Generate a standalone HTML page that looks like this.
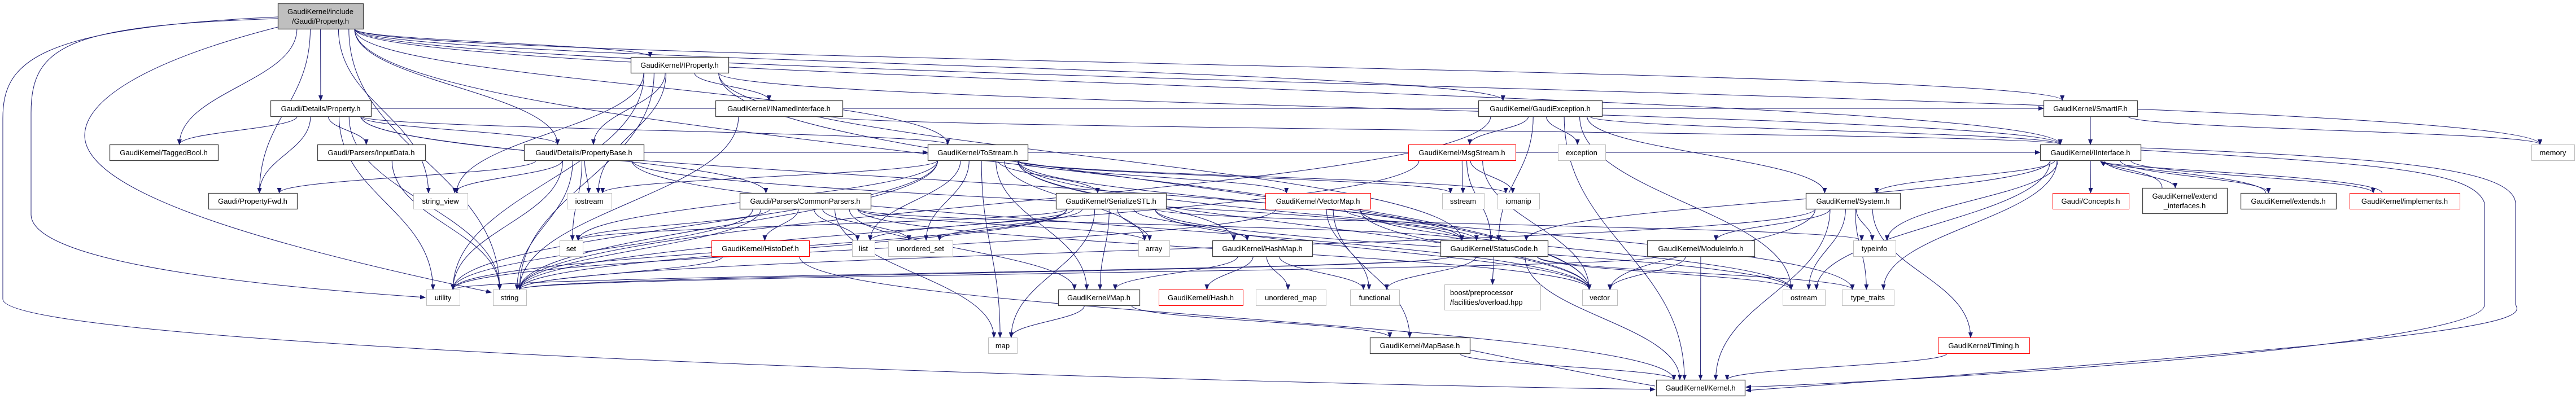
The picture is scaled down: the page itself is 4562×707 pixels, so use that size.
<!DOCTYPE html>
<html><head><meta charset="utf-8">
<style>
html,body{margin:0;padding:0;background:#fff;}
svg{display:block;}
text{font-family:"Liberation Sans",sans-serif;font-size:13px;fill:#000;}
</style></head>
<body>
<svg id="g" width="4562" height="707" xmlns="http://www.w3.org/2000/svg">
<defs>
<marker id="ar" viewBox="0 0 10 10" refX="9" refY="5" markerWidth="10" markerHeight="10" markerUnits="userSpaceOnUse" orient="auto">
<path d="M0,1 L10,5 L0,9 z" fill="#191970"/></marker>
</defs>
<g id="edges" fill="none" stroke="#191970" stroke-width="1"></g>
<g id="nodes"></g>
</svg>
<script>
var N={
root:[492,6,643,51,'b',['GaudiKernel/include','/Gaudi/Property.h']],
IProperty:[1117,101,1290,129,'k',['GaudiKernel/IProperty.h']],
DetProp:[479,178,657,206,'k',['Gaudi/Details/Property.h']],
INamed:[1267,178,1492,206,'k',['GaudiKernel/INamedInterface.h']],
GaudiExc:[2618,178,2837,206,'k',['GaudiKernel/GaudiException.h']],
SmartIF:[3619,178,3785,206,'k',['GaudiKernel/SmartIF.h']],
TaggedBool:[194,256,386,284,'k',['GaudiKernel/TaggedBool.h']],
InputData:[562,256,753,284,'k',['Gaudi/Parsers/InputData.h']],
PropBase:[928,256,1140,284,'k',['Gaudi/Details/PropertyBase.h']],
ToStream:[1643,256,1820,284,'k',['GaudiKernel/ToStream.h']],
MsgStream:[2494,256,2684,284,'r',['GaudiKernel/MsgStream.h']],
exception:[2759,256,2843,284,'g',['exception']],
IInterface:[3613,256,3791,284,'k',['GaudiKernel/IInterface.h']],
memory:[4483,256,4559,284,'g',['memory']],
PropertyFwd:[369,342,526,370,'k',['Gaudi/PropertyFwd.h']],
string_view:[732,342,828,370,'g',['string_view']],
iostream:[1004,342,1083,370,'g',['iostream']],
CommonParsers:[1310,342,1542,370,'k',['Gaudi/Parsers/CommonParsers.h']],
SerializeSTL:[1870,342,2065,370,'k',['GaudiKernel/SerializeSTL.h']],
VectorMap:[2241,342,2427,370,'r',['GaudiKernel/VectorMap.h']],
sstream:[2554,342,2628,370,'g',['sstream']],
iomanip:[2652,342,2726,370,'g',['iomanip']],
System:[3198,342,3365,370,'k',['GaudiKernel/System.h']],
Concepts:[3635,342,3770,370,'r',['Gaudi/Concepts.h']],
extint:[3794,333,3944,378,'k',['GaudiKernel/extend','_interfaces.h']],
extends:[3968,342,4137,370,'k',['GaudiKernel/extends.h']],
implements:[4161,342,4356,370,'r',['GaudiKernel/implements.h']],
set:[991,426,1032,454,'g',['set']],
HistoDef:[1260,426,1433,454,'r',['GaudiKernel/HistoDef.h']],
list:[1509,426,1549,454,'g',['list']],
unordered_set:[1573,426,1687,454,'g',['unordered_set']],
array:[2016,426,2071,454,'g',['array']],
HashMap:[2147,426,2324,454,'k',['GaudiKernel/HashMap.h']],
StatusCode:[2551,426,2741,454,'k',['GaudiKernel/StatusCode.h']],
ModuleInfo:[2917,426,3107,454,'k',['GaudiKernel/ModuleInfo.h']],
typeinfo:[3282,426,3357,454,'g',['typeinfo']],
utility:[755,513,814,541,'g',['utility']],
string:[873,513,932,541,'g',['string']],
Map:[1874,513,2018,541,'k',['GaudiKernel/Map.h']],
Hash:[2052,513,2201,541,'r',['GaudiKernel/Hash.h']],
unordered_map:[2224,513,2348,541,'g',['unordered_map']],
functional:[2391,513,2478,541,'g',['functional']],
boost:[2558,504,2728,549,'g',['boost/preprocessor','/facilities/overload.hpp']],
vector:[2802,513,2864,541,'g',['vector']],
ostream:[3157,513,3232,541,'g',['ostream']],
type_traits:[3262,513,3354,541,'g',['type_traits']],
map:[1750,598,1801,626,'g',['map']],
MapBase:[2426,598,2603,626,'k',['GaudiKernel/MapBase.h']],
Timing:[3432,598,3594,626,'r',['GaudiKernel/Timing.h']],
Kernel:[2933,673,3090,701,'k',['GaudiKernel/Kernel.h']]
};
var E=[
['root','DetProp'],['root','TaggedBool'],['root','PropertyFwd'],['root','IProperty'],['root','PropBase'],['root','ToStream'],['root','string_view'],['root','SmartIF'],['root','IInterface'],['root','vector'],['root','GaudiExc'],['root','string'],
['DetProp','TaggedBool'],['DetProp','InputData'],['DetProp','PropertyFwd'],['DetProp','utility'],['DetProp','string'],['DetProp','PropBase'],['DetProp','ToStream'],['DetProp','CommonParsers'],['DetProp','StatusCode'],['DetProp','SmartIF'],
['IProperty','PropBase'],['IProperty','string_view'],['IProperty','iostream'],['IProperty','string'],['IProperty','INamed'],['IProperty','IInterface'],['IProperty','vector'],['IProperty','StatusCode'],['IProperty','utility'],
['INamed','string'],['INamed','IInterface'],
['PropBase','PropertyFwd'],['PropBase','string_view'],['PropBase','iostream'],['PropBase','set'],['PropBase','string'],['PropBase','utility'],['PropBase','ToStream'],['PropBase','StatusCode'],['PropBase','IInterface'],['PropBase','vector'],
['InputData','string'],
['CommonParsers','set'],['CommonParsers','HistoDef'],['CommonParsers','list'],['CommonParsers','unordered_set'],['CommonParsers','string'],['CommonParsers','map'],['CommonParsers','vector'],['CommonParsers','Map'],['CommonParsers','StatusCode'],['CommonParsers','utility'],['CommonParsers','array'],
['HistoDef','string'],['HistoDef','Kernel'],
['ToStream','unordered_set'],['ToStream','map'],['ToStream','Map'],['ToStream','SerializeSTL'],['ToStream','array'],['ToStream','HashMap'],['ToStream','VectorMap'],['ToStream','iostream'],['ToStream','set'],['ToStream','list'],['ToStream','string'],['ToStream','utility'],['ToStream','sstream'],['ToStream','iomanip'],['ToStream','vector'],['ToStream','type_traits'],['ToStream','StatusCode'],
['SerializeSTL','array'],['SerializeSTL','map'],['SerializeSTL','Map'],['SerializeSTL','HashMap'],['SerializeSTL','unordered_set'],['SerializeSTL','list'],['SerializeSTL','set'],['SerializeSTL','string'],['SerializeSTL','vector'],['SerializeSTL','ostream'],['SerializeSTL','utility'],['SerializeSTL','typeinfo'],
['VectorMap','functional'],['VectorMap','MapBase'],['VectorMap','StatusCode'],['VectorMap','vector'],['VectorMap','ostream'],['VectorMap','utility'],
['HashMap','Map'],['HashMap','Hash'],['HashMap','unordered_map'],['HashMap','functional'],
['Map','map'],['Map','MapBase'],['MapBase','Kernel'],
['GaudiExc','MsgStream'],['GaudiExc','exception'],['GaudiExc','StatusCode'],['GaudiExc','IInterface'],['GaudiExc','Kernel'],['GaudiExc','string'],['GaudiExc','System'],['GaudiExc','ostream'],
['MsgStream','sstream'],['MsgStream','iomanip'],['MsgStream','string'],['MsgStream','StatusCode'],['MsgStream','vector'],
['StatusCode','boost'],['StatusCode','functional'],['StatusCode','ostream'],['StatusCode','type_traits'],['StatusCode','Kernel'],['StatusCode','utility'],['StatusCode','string'],
['ModuleInfo','vector'],['ModuleInfo','Kernel'],['ModuleInfo','string'],
['IInterface','System'],['IInterface','Concepts'],['IInterface','extint'],['IInterface','extends'],['IInterface','implements'],['IInterface','typeinfo'],['IInterface','type_traits'],['IInterface','ostream'],['IInterface','StatusCode'],
['SmartIF','IInterface'],['SmartIF','memory'],['root','memory'],
['System','typeinfo'],['System','type_traits'],['System','ostream'],['System','Timing'],['System','Kernel'],['System','ModuleInfo'],['System','vector'],['System','string'],
['Timing','Kernel']
];
var ns='http://www.w3.org/2000/svg',eg=document.getElementById('edges'),ng=document.getElementById('nodes');
function P(d,arrow){var p=document.createElementNS(ns,'path');p.setAttribute('d',d);if(arrow!==false)p.setAttribute('marker-end','url(#ar)');eg.appendChild(p);}
E.forEach(function(e){var a=N[e[0]],b=N[e[1]];
 var acx=(a[0]+a[2])/2,bcx=(b[0]+b[2])/2,aw=a[2]-a[0],bw=b[2]-b[0];
 var sx=acx+Math.max(-aw*0.4,Math.min(aw*0.4,(bcx-acx)*0.15)),tx=bcx+Math.max(-bw*0.3,Math.min(bw*0.3,(acx-bcx)*0.1));
 var sy=a[3],ty=b[1];
 if(ty<=sy+4){ // same row-ish: go to side
   if(bcx>acx){sx=a[2];sy=(a[1]+a[3])/2;tx=b[0];ty=(b[1]+b[3])/2;}else{sx=a[0];sy=(a[1]+a[3])/2;tx=b[2];ty=(b[1]+b[3])/2;}
   P('M'+sx+','+sy+' C'+(sx+(tx-sx)*0.4)+','+sy+' '+(sx+(tx-sx)*0.6)+','+ty+' '+tx+','+ty);return;}
 var dy=ty-sy;
 P('M'+sx+','+sy+' C'+sx+','+(sy+dy*0.45)+' '+tx+','+(ty-dy*0.45)+' '+tx+','+ty);
});
// back edges into IInterface
['extint','extends','implements'].forEach(function(k){var b=N[k];var bx=(b[0]+b[2])/2-40;P('M'+bx+','+b[1]+' C'+bx+','+(b[1]-30)+' 3740,300 3720,286');});
// big loops
P('M492,33 C120,45 55,80 55,200 L55,380 C55,470 500,510 753,527');
P('M492,30 C60,50 5,110 5,210 L5,530 C5,620 2200,680 2931,690');
P('M492,48 C250,110 150,180 150,240 C150,330 400,420 870,518');
P('M3791,266 C4200,290 4380,300 4400,360 L4400,540 C4400,610 3500,670 3092,686');
P('M3791,262 C4250,280 4450,300 4455,360 L4455,540 C4475,570 4400,600 3092,692');
P('M2603,620 C2700,640 2850,670 2931,684',false);
// nodes
Object.keys(N).forEach(function(k){var n=N[k];var r=document.createElementNS(ns,'rect');
 r.setAttribute('x',n[0]+0.5);r.setAttribute('y',n[1]+0.5);r.setAttribute('width',n[2]-n[0]);r.setAttribute('height',n[3]-n[1]);
 r.setAttribute('fill',n[4]=='b'?'#bfbfbf':'#fff');r.setAttribute('stroke',n[4]=='r'?'#ff0000':(n[4]=='g'?'#bfbfbf':'#404040'));r.setAttribute('stroke-width',n[4]=='g'||n[4]=='r'?1:1.3);
 ng.appendChild(r);var L=n[5],cy=(n[1]+n[3])/2;
 L.forEach(function(s,i){var t=document.createElementNS(ns,'text');t.setAttribute('x',L.length>1&&k=='boost'?n[0]+10:(n[0]+n[2])/2);
  t.setAttribute('text-anchor',L.length>1&&k=='boost'?'start':'middle');t.setAttribute('y',cy+5+(i-(L.length-1)/2)*17);t.textContent=s;ng.appendChild(t);});
});
</script>
</body></html>
